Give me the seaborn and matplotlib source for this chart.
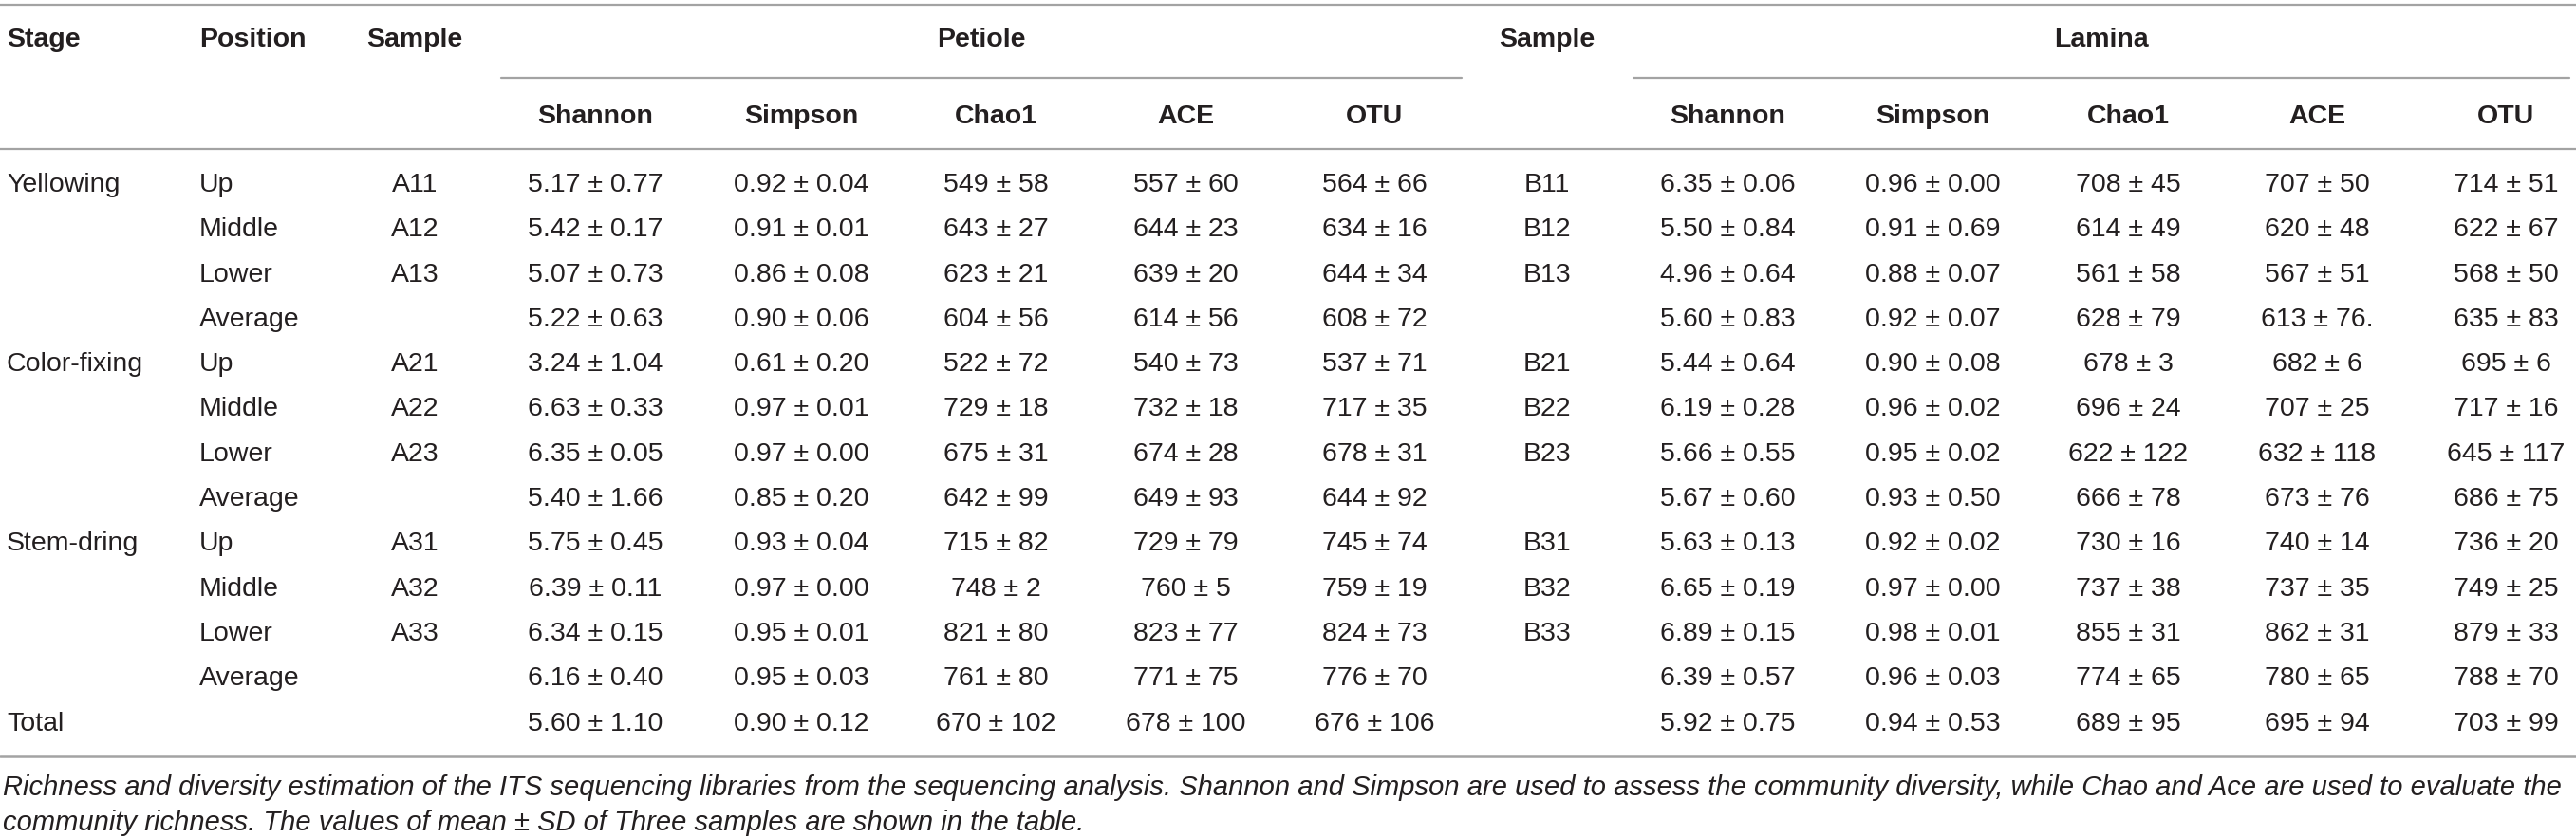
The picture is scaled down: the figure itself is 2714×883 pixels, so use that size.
import pandas as pd
import matplotlib.pyplot as plt
import seaborn as sns

# Table content
stages = ["Yellowing", "", "", "", "Color-fixing", "", "", "", "Stem-dring", "", "", "", "Total"]
positions = ["Up", "Middle", "Lower", "Average"] * 3 + [""]
sample_a = ["A11", "A12", "A13", "", "A21", "A22", "A23", "", "A31", "A32", "A33", "", ""]
sample_b = ["B11", "B12", "B13", "", "B21", "B22", "B23", "", "B31", "B32", "B33", "", ""]
metrics = ["Shannon", "Simpson", "Chao1", "ACE", "OTU"]

petiole_shannon = ["5.17 ± 0.77", "5.42 ± 0.17", "5.07 ± 0.73", "5.22 ± 0.63", "3.24 ± 1.04", "6.63 ± 0.33",
                   "6.35 ± 0.05", "5.40 ± 1.66", "5.75 ± 0.45", "6.39 ± 0.11", "6.34 ± 0.15", "6.16 ± 0.40",
                   "5.60 ± 1.10"]
petiole_simpson = ["0.92 ± 0.04", "0.91 ± 0.01", "0.86 ± 0.08", "0.90 ± 0.06", "0.61 ± 0.20", "0.97 ± 0.01",
                   "0.97 ± 0.00", "0.85 ± 0.20", "0.93 ± 0.04", "0.97 ± 0.00", "0.95 ± 0.01", "0.95 ± 0.03",
                   "0.90 ± 0.12"]
petiole_chao1 = ["549 ± 58", "643 ± 27", "623 ± 21", "604 ± 56", "522 ± 72", "729 ± 18", "675 ± 31",
                 "642 ± 99", "715 ± 82", "748 ± 2", "821 ± 80", "761 ± 80", "670 ± 102"]
petiole_ace = ["557 ± 60", "644 ± 23", "639 ± 20", "614 ± 56", "540 ± 73", "732 ± 18", "674 ± 28",
               "649 ± 93", "729 ± 79", "760 ± 5", "823 ± 77", "771 ± 75", "678 ± 100"]
petiole_otu = ["564 ± 66", "634 ± 16", "644 ± 34", "608 ± 72", "537 ± 71", "717 ± 35", "678 ± 31",
               "644 ± 92", "745 ± 74", "759 ± 19", "824 ± 73", "776 ± 70", "676 ± 106"]

lamina_shannon = ["6.35 ± 0.06", "5.50 ± 0.84", "4.96 ± 0.64", "5.60 ± 0.83", "5.44 ± 0.64", "6.19 ± 0.28",
                  "5.66 ± 0.55", "5.67 ± 0.60", "5.63 ± 0.13", "6.65 ± 0.19", "6.89 ± 0.15", "6.39 ± 0.57",
                  "5.92 ± 0.75"]
lamina_simpson = ["0.96 ± 0.00", "0.91 ± 0.69", "0.88 ± 0.07", "0.92 ± 0.07", "0.90 ± 0.08", "0.96 ± 0.02",
                  "0.95 ± 0.02", "0.93 ± 0.50", "0.92 ± 0.02", "0.97 ± 0.00", "0.98 ± 0.01", "0.96 ± 0.03",
                  "0.94 ± 0.53"]
lamina_chao1 = ["708 ± 45", "614 ± 49", "561 ± 58", "628 ± 79", "678 ± 3", "696 ± 24", "622 ± 122",
                "666 ± 78", "730 ± 16", "737 ± 38", "855 ± 31", "774 ± 65", "689 ± 95"]
lamina_ace = ["707 ± 50", "620 ± 48", "567 ± 51", "613 ± 76.", "682 ± 6", "707 ± 25", "632 ± 118",
              "673 ± 76", "740 ± 14", "737 ± 35", "862 ± 31", "780 ± 65", "695 ± 94"]
lamina_otu = ["714 ± 51", "622 ± 67", "568 ± 50", "635 ± 83", "695 ± 6", "717 ± 16", "645 ± 117",
              "686 ± 75", "736 ± 20", "749 ± 25", "879 ± 33", "788 ± 70", "703 ± 99"]

caption = ["Richness and diversity estimation of the ITS sequencing libraries from the sequencing analysis. "
           "Shannon and Simpson are used to assess the community diversity, while Chao and Ace are used to evaluate the",
           "community richness. The values of mean ± SD of Three samples are shown in the table."]

petiole = pd.DataFrame(dict(zip(metrics, [petiole_shannon, petiole_simpson, petiole_chao1, petiole_ace, petiole_otu])))
lamina = pd.DataFrame(dict(zip(metrics, [lamina_shannon, lamina_simpson, lamina_chao1, lamina_ace, lamina_otu])))

sns.set_theme(style="white")
plt.rcParams["font.family"] = ["Liberation Sans", "DejaVu Sans"]

W, H = 2714, 883
fig = plt.figure(figsize=(W / 100, H / 100), dpi=100)
ax = fig.add_axes([0, 0, 1, 1])
ax.set_xlim(0, W)
ax.set_ylim(H, 0)
ax.axis("off")

txt = "#231f20"
rule = "#a3a3a3"
fs = 20.5

# column positions (pixels)
petiole_x = [627, 844, 1049, 1249, 1448]
lamina_x = [1820, 2036, 2242, 2441, 2640]
row_y = [195 + 47.3 * i for i in range(len(stages))]

# rules
ax.plot([0, W], [5, 5], color=rule, lw=1.6)
ax.plot([528, 1540], [82, 82], color=rule, lw=1.6)
ax.plot([1721, 2707], [82, 82], color=rule, lw=1.6)
ax.plot([0, W], [157, 157], color=rule, lw=1.6)
ax.plot([0, W], [797, 797], color=rule, lw=1.8)

# headers
hd = dict(fontsize=fs, fontweight="bold", color=txt, va="center")
ax.text(7, 42, "Stage", ha="left", **hd)
ax.text(210, 42, "Position", ha="left", **hd)
ax.text(437, 42, "Sample", ha="center", **hd)
ax.text(1034, 42, "Petiole", ha="center", **hd)
ax.text(1630, 42, "Sample", ha="center", **hd)
ax.text(2214, 42, "Lamina", ha="center", **hd)
for m, xp, xl in zip(metrics, petiole_x, lamina_x):
    ax.text(xp, 123, m, ha="center", **hd)
    ax.text(xl, 123, m, ha="center", **hd)

# body
bd = dict(fontsize=fs, color=txt, va="center")
for i, y in enumerate(row_y):
    ax.text(7, y, stages[i], ha="left", **bd)
    ax.text(210, y, positions[i], ha="left", **bd)
    ax.text(437, y, sample_a[i], ha="center", **bd)
    ax.text(1630, y, sample_b[i], ha="center", **bd)
    for m, xp, xl in zip(metrics, petiole_x, lamina_x):
        ax.text(xp, y, petiole[m][i], ha="center", **bd)
        ax.text(xl, y, lamina[m][i], ha="center", **bd)

# caption
for line, y in zip(caption, [830, 867]):
    ax.text(3, y, line, ha="left", va="center", fontsize=21, style="italic", color=txt)

fig.savefig("out.png", dpi=100)
